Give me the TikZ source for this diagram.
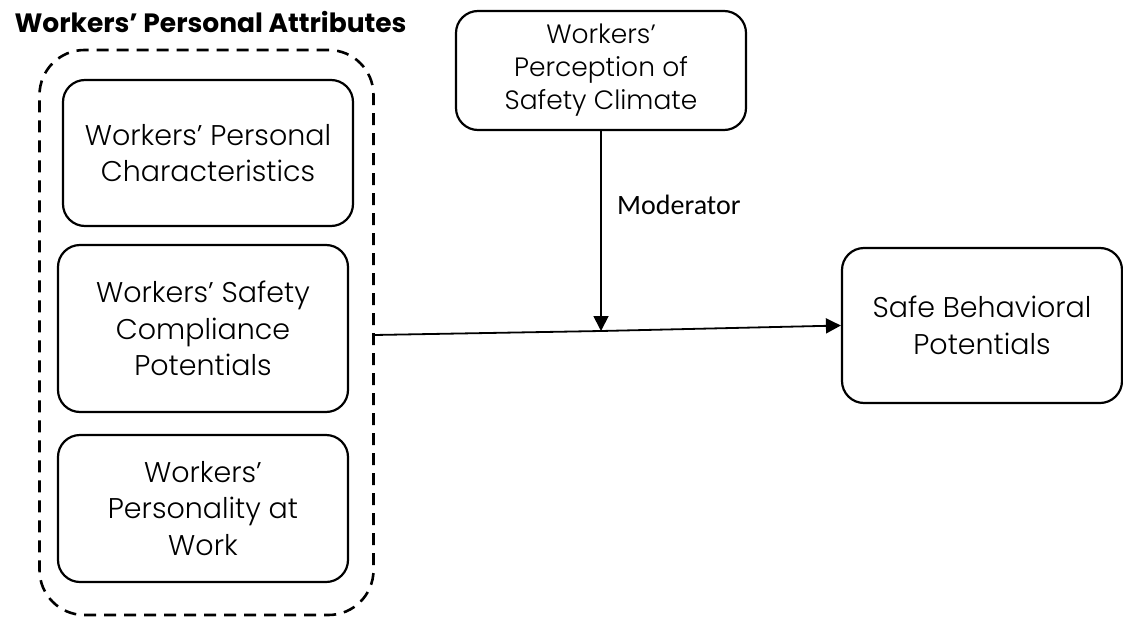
\documentclass[tikz,border=0pt]{standalone}
\usepackage{fontspec}
\setmainfont{Poppins}
\newfontfamily\lightfont{Poppins Light}
\newfontfamily\modfont{Carlito}
\usetikzlibrary{arrows.meta}
\usetikzlibrary{positioning}

\begin{document}
\begin{tikzpicture}[x=1pt,y=-1pt]
  \tikzset{factor/.style = {shape=rectangle,draw,rounded corners=22pt,line width=2.2pt,minimum width=290pt,align=center,inner sep=0pt,font=\lightfont\fontsize{28.5}{36.5}\selectfont}}
  \tikzset{group/.style = {shape=rectangle,draw,dash pattern=on 12pt off 8pt,rounded corners=45pt,line width=2.6pt,inner sep=0pt}}
  \tikzset{edge/.style = {-{Triangle[length=15pt,width=15pt]},line width=1.8pt}}

  \useasboundingbox (0,0) rectangle (1123,618);

  \node[font=\bfseries\fontsize{26.5}{30}\selectfont,anchor=base west] (title) at (11,33) {Workers’ Personal Attributes};
  \node[group,minimum width=334pt,minimum height=565pt] (attr) at (206.5,332.5) {};

  \node[factor,minimum height=146pt] (wchar) at (208,153) {Workers’ Personal\\Characteristics};
  \node[factor,minimum height=167pt] (wcomp) at (203,328.5) {Workers’ Safety\\Compliance\\Potentials};
  \node[factor,minimum height=147pt] (wpers) at (203,508.5) {Workers’\\Personality at\\Work};

  \node[factor,minimum height=119pt,font=\lightfont\fontsize{26.5}{33}\selectfont] (wclim) at (601,70.5) {Workers’\\Perception of\\Safety Climate};
  \node[factor,minimum width=280pt,minimum height=155pt] (sbpot) at (982,325.5) {Safe Behavioral\\Potentials};

  \coordinate (src) at (374,335);
  \coordinate (mod) at (601,331);

  \draw[line width=1.8pt] (src) -- (mod);
  \draw[edge] (mod) -- (sbpot.west);
  \draw[edge] (wclim.south) -- (mod) node[pos=0.37,right=12pt,font=\modfont\fontsize{28}{32}\selectfont] (modlbl) {Moderator};
\end{tikzpicture}
\end{document}
